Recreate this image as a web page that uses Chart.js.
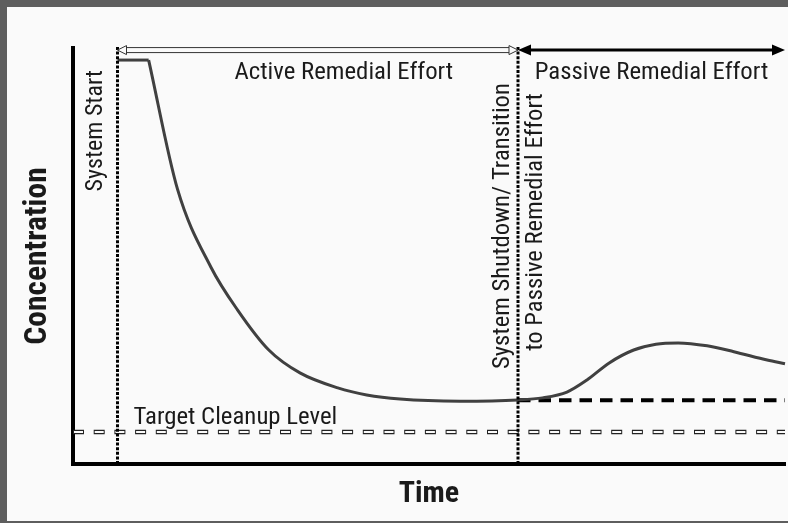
<!DOCTYPE html>
<html>
<head>
<meta charset="utf-8">
<script src="https://cdn.jsdelivr.net/npm/chart.js@4.4.1/dist/chart.umd.min.js"></script>
<style>
	body { margin: 0; background: #fafafa; }
	#wrap {
		width: 788px; height: 523px; box-sizing: border-box;
		border-top: 7px solid #5e5e5e; border-left: 7px solid #5e5e5e; border-bottom: 2px solid #5e5e5e;
		background: #fafafa;
	}
	#wrap canvas { display: block; }
</style>
</head>
<body>
<div id="wrap"><canvas id="chart" width="781" height="514"></canvas></div>
<script>
// time axis runs 0..16, concentration 0..100 (no units in the original)
const startTime = 1
const shutdownTime = 10
const endTime = 16
const targetLevel = 7.7
const passiveLevel = 15.3
const arrowLevel = 99.5

const plateauTime = [1, 1.7]
const plateauConc = [97.1, 97.1]

const curveTime = [1.7, 2.35, 3.1, 3.7, 4.4, 5.1, 5.95, 6.6, 7.35, 8.7, 10, 10.55, 11.1, 11.55, 12.05, 12.6, 13.1, 13.6, 14.25, 14.85, 15.6, 16]
const curveConc = [97.1, 66, 47.3, 37, 27.4, 21.9, 18.3, 16.6, 15.6, 15.1, 15.4, 15.9, 17.3, 20.2, 24.3, 27.4, 28.8, 29.1, 28.4, 27, 25, 24.1]

const labels = {
	active: "Active Remedial Effort",
	passive: "Passive Remedial Effort",
	start: "System Start",
	shutdown: ["System Shutdown/ Transition", "to Passive Remedial Effort"],
	target: "Target Cleanup Level",
	xTitle: "Time",
	yTitle: "Concentration"
}

const FONT = "Roboto Condensed"
const INK = "#1a1a1a"
const BG = "#fafafa"

function toPoints(xs, ys) {
	return xs.map((x, i) => ({x, y: ys[i]}))
}

function vDotted(ctx, x, y1, y2) {
	ctx.save()
	ctx.strokeStyle = "#000"
	ctx.lineWidth = 3
	ctx.setLineDash([3, 1.6])
	ctx.beginPath()
	ctx.moveTo(x, y1)
	ctx.lineTo(x, y2)
	ctx.stroke()
	ctx.restore()
}

function hollowArrow(ctx, x1, x2, y) {
	const head = 9
	ctx.save()
	ctx.strokeStyle = "#333"
	ctx.lineWidth = 1
	ctx.beginPath()
	ctx.moveTo(x1 + head, y - 2.5)
	ctx.lineTo(x2 - head, y - 2.5)
	ctx.moveTo(x1 + head, y + 2.5)
	ctx.lineTo(x2 - head, y + 2.5)
	ctx.stroke()
	ctx.fillStyle = BG
	for (const [tip, dir] of [[x1, 1], [x2, -1]]) {
		ctx.beginPath()
		ctx.moveTo(tip, y)
		ctx.lineTo(tip + dir * head, y - 4.5)
		ctx.lineTo(tip + dir * head, y + 4.5)
		ctx.closePath()
		ctx.fill()
		ctx.stroke()
	}
	ctx.restore()
}

function solidArrow(ctx, x1, x2, y) {
	const head = 13
	ctx.save()
	ctx.strokeStyle = "#000"
	ctx.fillStyle = "#000"
	ctx.lineWidth = 3
	ctx.beginPath()
	ctx.moveTo(x1 + head - 2, y)
	ctx.lineTo(x2 - head + 2, y)
	ctx.stroke()
	for (const [tip, dir] of [[x1, 1], [x2, -1]]) {
		ctx.beginPath()
		ctx.moveTo(tip, y)
		ctx.lineTo(tip + dir * head, y - 5.5)
		ctx.lineTo(tip + dir * head, y + 5.5)
		ctx.closePath()
		ctx.fill()
	}
	ctx.restore()
}

// rotated -90deg; x is the baseline position, y the top end of the text
function rotatedText(ctx, text, x, y) {
	ctx.save()
	ctx.translate(x, y)
	ctx.rotate(-Math.PI / 2)
	ctx.textAlign = "right"
	ctx.textBaseline = "alphabetic"
	ctx.fillText(text, 0, 0)
	ctx.restore()
}

const annotations = {
	id: "annotations",
	beforeDatasetsDraw(chart) {
		const {ctx, scales: {x, y}} = chart
		const left = x.getPixelForValue(0)
		const right = x.getPixelForValue(endTime)
		const xe = x.getPixelForValue(shutdownTime)

		// target cleanup level: outlined dashes
		const ty = y.getPixelForValue(targetLevel)
		ctx.save()
		ctx.beginPath()
		ctx.moveTo(left, ty)
		ctx.lineTo(right, ty)
		ctx.strokeStyle = "#222"
		ctx.lineWidth = 4.5
		ctx.setLineDash([11, 9.7])
		ctx.stroke()
		ctx.strokeStyle = BG
		ctx.lineWidth = 2
		ctx.setLineDash([9, 11.7])
		ctx.lineDashOffset = -1
		ctx.stroke()
		ctx.restore()

		// passive level after shutdown
		const py = y.getPixelForValue(passiveLevel)
		ctx.save()
		ctx.beginPath()
		ctx.moveTo(xe, py)
		ctx.lineTo(right, py)
		ctx.strokeStyle = "#000"
		ctx.lineWidth = 4
		ctx.setLineDash([12.5, 8])
		ctx.stroke()
		ctx.restore()
	},
	afterDatasetsDraw(chart) {
		const {ctx, scales: {x, y}} = chart
		const right = x.getPixelForValue(endTime)
		const xs = x.getPixelForValue(startTime)
		const xe = x.getPixelForValue(shutdownTime)
		const top = y.getPixelForValue(100)
		const bottom = y.getPixelForValue(0)
		const ay = y.getPixelForValue(arrowLevel)

		vDotted(ctx, xs, top - 1, bottom)
		vDotted(ctx, xe, top - 1, bottom)
		hollowArrow(ctx, xs, xe, ay)
		solidArrow(ctx, xe, right, ay)

		ctx.save()
		ctx.fillStyle = INK
		ctx.font = `24.8px "${FONT}"`
		ctx.textBaseline = "alphabetic"
		ctx.textAlign = "left"
		ctx.fillText(labels.active, xs + 117, ay + 29)
		ctx.textAlign = "center"
		ctx.fillText(labels.passive, (xe + right) / 2, ay + 28.5)

		ctx.textAlign = "left"
		ctx.fillText(labels.target, xs + 16, y.getPixelForValue(targetLevel) - 8)

		ctx.font = `24px "${FONT}"`
		rotatedText(ctx, labels.start, xs - 16, ay + 20)
		ctx.font = `24.7px "${FONT}"`
		rotatedText(ctx, labels.shutdown[0], xe - 9.5, ay + 33)
		rotatedText(ctx, labels.shutdown[1], xe + 24, ay + 43)
		ctx.restore()
	}
}

const ctx = document.getElementById("chart").getContext("2d")
const chart = new Chart(ctx, {
	type: "line",
	data: {
		datasets: [
			{
				label: "plateau",
				data: toPoints(plateauTime, plateauConc),
				borderColor: "#404040",
				borderWidth: 3,
				pointRadius: 0,
				clip: false
			},
			{
				label: "concentration",
				data: toPoints(curveTime, curveConc),
				borderColor: "#404040",
				borderWidth: 3,
				pointRadius: 0,
				cubicInterpolationMode: "monotone",
				clip: false
			}
		]
	},
	options: {
		responsive: false,
		animation: false,
		layout: {
			padding: {left: 8, right: 3, top: 41, bottom: 5}
		},
		plugins: {
			legend: {display: false},
			tooltip: {enabled: false}
		},
		scales: {
			x: {
				type: "linear",
				min: 0,
				max: endTime,
				grid: {display: false, drawTicks: false},
				ticks: {display: false},
				border: {display: true, color: "#000", width: 4},
				title: {
					display: true,
					text: labels.xTitle,
					color: INK,
					font: {family: FONT, size: 30, weight: "bold"},
					padding: {top: 12.5, bottom: 3.5}
				}
			},
			y: {
				type: "linear",
				min: 0,
				max: 100,
				grid: {display: false, drawTicks: false},
				ticks: {display: false},
				border: {display: true, color: "#000", width: 4},
				title: {
					display: true,
					text: labels.yTitle,
					color: INK,
					font: {family: FONT, size: 31.5, weight: "bold"},
					padding: {top: 4.1, bottom: 16.1}
				}
			}
		}
	},
	plugins: [annotations]
})
</script>
</body>
</html>
